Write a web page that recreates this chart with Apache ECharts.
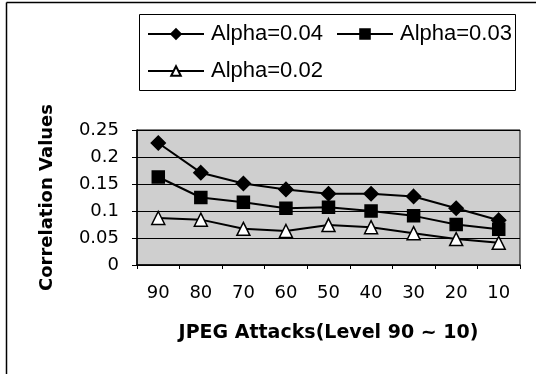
<!DOCTYPE html>
<html>
<head>
<meta charset="utf-8">
<style>
html, body { margin: 0; padding: 0; background: #fff; }
#main { width: 536px; height: 374px; }
</style>
</head>
<body>
<div id="main"></div>
<script src="https://cdn.jsdelivr.net/npm/echarts@6/dist/echarts.min.js"></script>
<script>
var levels = ['90', '80', '70', '60', '50', '40', '30', '20', '10'];
var alpha04 = [0.226, 0.171, 0.151, 0.140, 0.132, 0.132, 0.127, 0.105, 0.083];
var alpha03 = [0.163, 0.125, 0.116, 0.105, 0.107, 0.100, 0.091, 0.075, 0.066];
var alpha02 = [0.087, 0.084, 0.067, 0.063, 0.074, 0.070, 0.059, 0.048, 0.041];

var myChart = echarts.init(document.getElementById('main'));
var arial = 'Liberation Sans, Arial, sans-serif';
var wide = 'DejaVu Sans, sans-serif';

function line(name, data, symbol, size, fill) {
    return {
        name: name,
        type: 'line',
        data: data,
        symbol: symbol,
        symbolSize: size,
        lineStyle: { color: '#000', width: 2 },
        itemStyle: { color: fill, borderColor: '#000', borderWidth: 1.5 },
        z: 3
    };
}

// one legend per item so the two columns line up like the original
function legendAt(name, left, top) {
    return {
        data: [name],
        left: left, top: top,
        padding: 0,
        itemWidth: 56, itemHeight: 12,
        itemGap: 0,
        textStyle: { fontSize: 22, color: '#000', fontFamily: arial, padding: [0, 0, 0, 2] }
    };
}

var option = {
    animation: false,
    textStyle: { fontFamily: arial },
    graphic: [
        { type: 'line', shape: { x1: 6.5, y1: 2.5, x2: 536, y2: 2.5 }, style: { stroke: '#000', lineWidth: 1.5 } },
        { type: 'line', shape: { x1: 6.5, y1: 2.5, x2: 6.5, y2: 374 }, style: { stroke: '#000', lineWidth: 1.5 } },
        {
            type: 'rect',
            shape: { x: 139.5, y: 14.5, width: 376, height: 76 },
            style: { fill: 'none', stroke: '#000', lineWidth: 1 }
        }
    ],
    legend: [
        legendAt('Alpha=0.04', 147, 23),
        legendAt('Alpha=0.03', 336, 23),
        legendAt('Alpha=0.02', 147, 60)
    ],
    grid: {
        left: 137, right: 16, top: 130, bottom: 109,
        show: true, backgroundColor: '#cfcfcf', borderColor: '#000', borderWidth: 1
    },
    xAxis: {
        type: 'category',
        data: levels,
        boundaryGap: true,
        name: 'JPEG Attacks(Level 90 ~ 10)',
        nameLocation: 'middle',
        nameGap: 59,
        nameTextStyle: { fontSize: 19, fontWeight: 'bold', color: '#000', fontFamily: wide },
        axisLine: { lineStyle: { color: '#000', width: 1.5 } },
        axisTick: { show: true, length: 4, lineStyle: { color: '#000' } },
        axisLabel: { fontSize: 18, color: '#000', margin: 19, fontFamily: wide }
    },
    yAxis: {
        type: 'value',
        min: 0, max: 0.25, interval: 0.05,
        name: 'Correlation Values',
        nameLocation: 'middle',
        nameGap: 81,
        nameTextStyle: { fontSize: 18, fontWeight: 'bold', color: '#000', fontFamily: wide },
        axisLine: { show: true, lineStyle: { color: '#000', width: 1.5 } },
        axisTick: { show: true, length: 5, lineStyle: { color: '#000' } },
        axisLabel: { fontSize: 18, color: '#000', margin: 18, fontFamily: wide },
        splitLine: { lineStyle: { color: '#000', width: 1 } }
    },
    series: [
        line('Alpha=0.04', alpha04, 'diamond', 14, '#000'),
        line('Alpha=0.03', alpha03, 'rect', 12, '#000'),
        line('Alpha=0.02', alpha02, 'triangle', 13, '#fff')
    ]
};
myChart.setOption(option);
</script>
</body>
</html>
